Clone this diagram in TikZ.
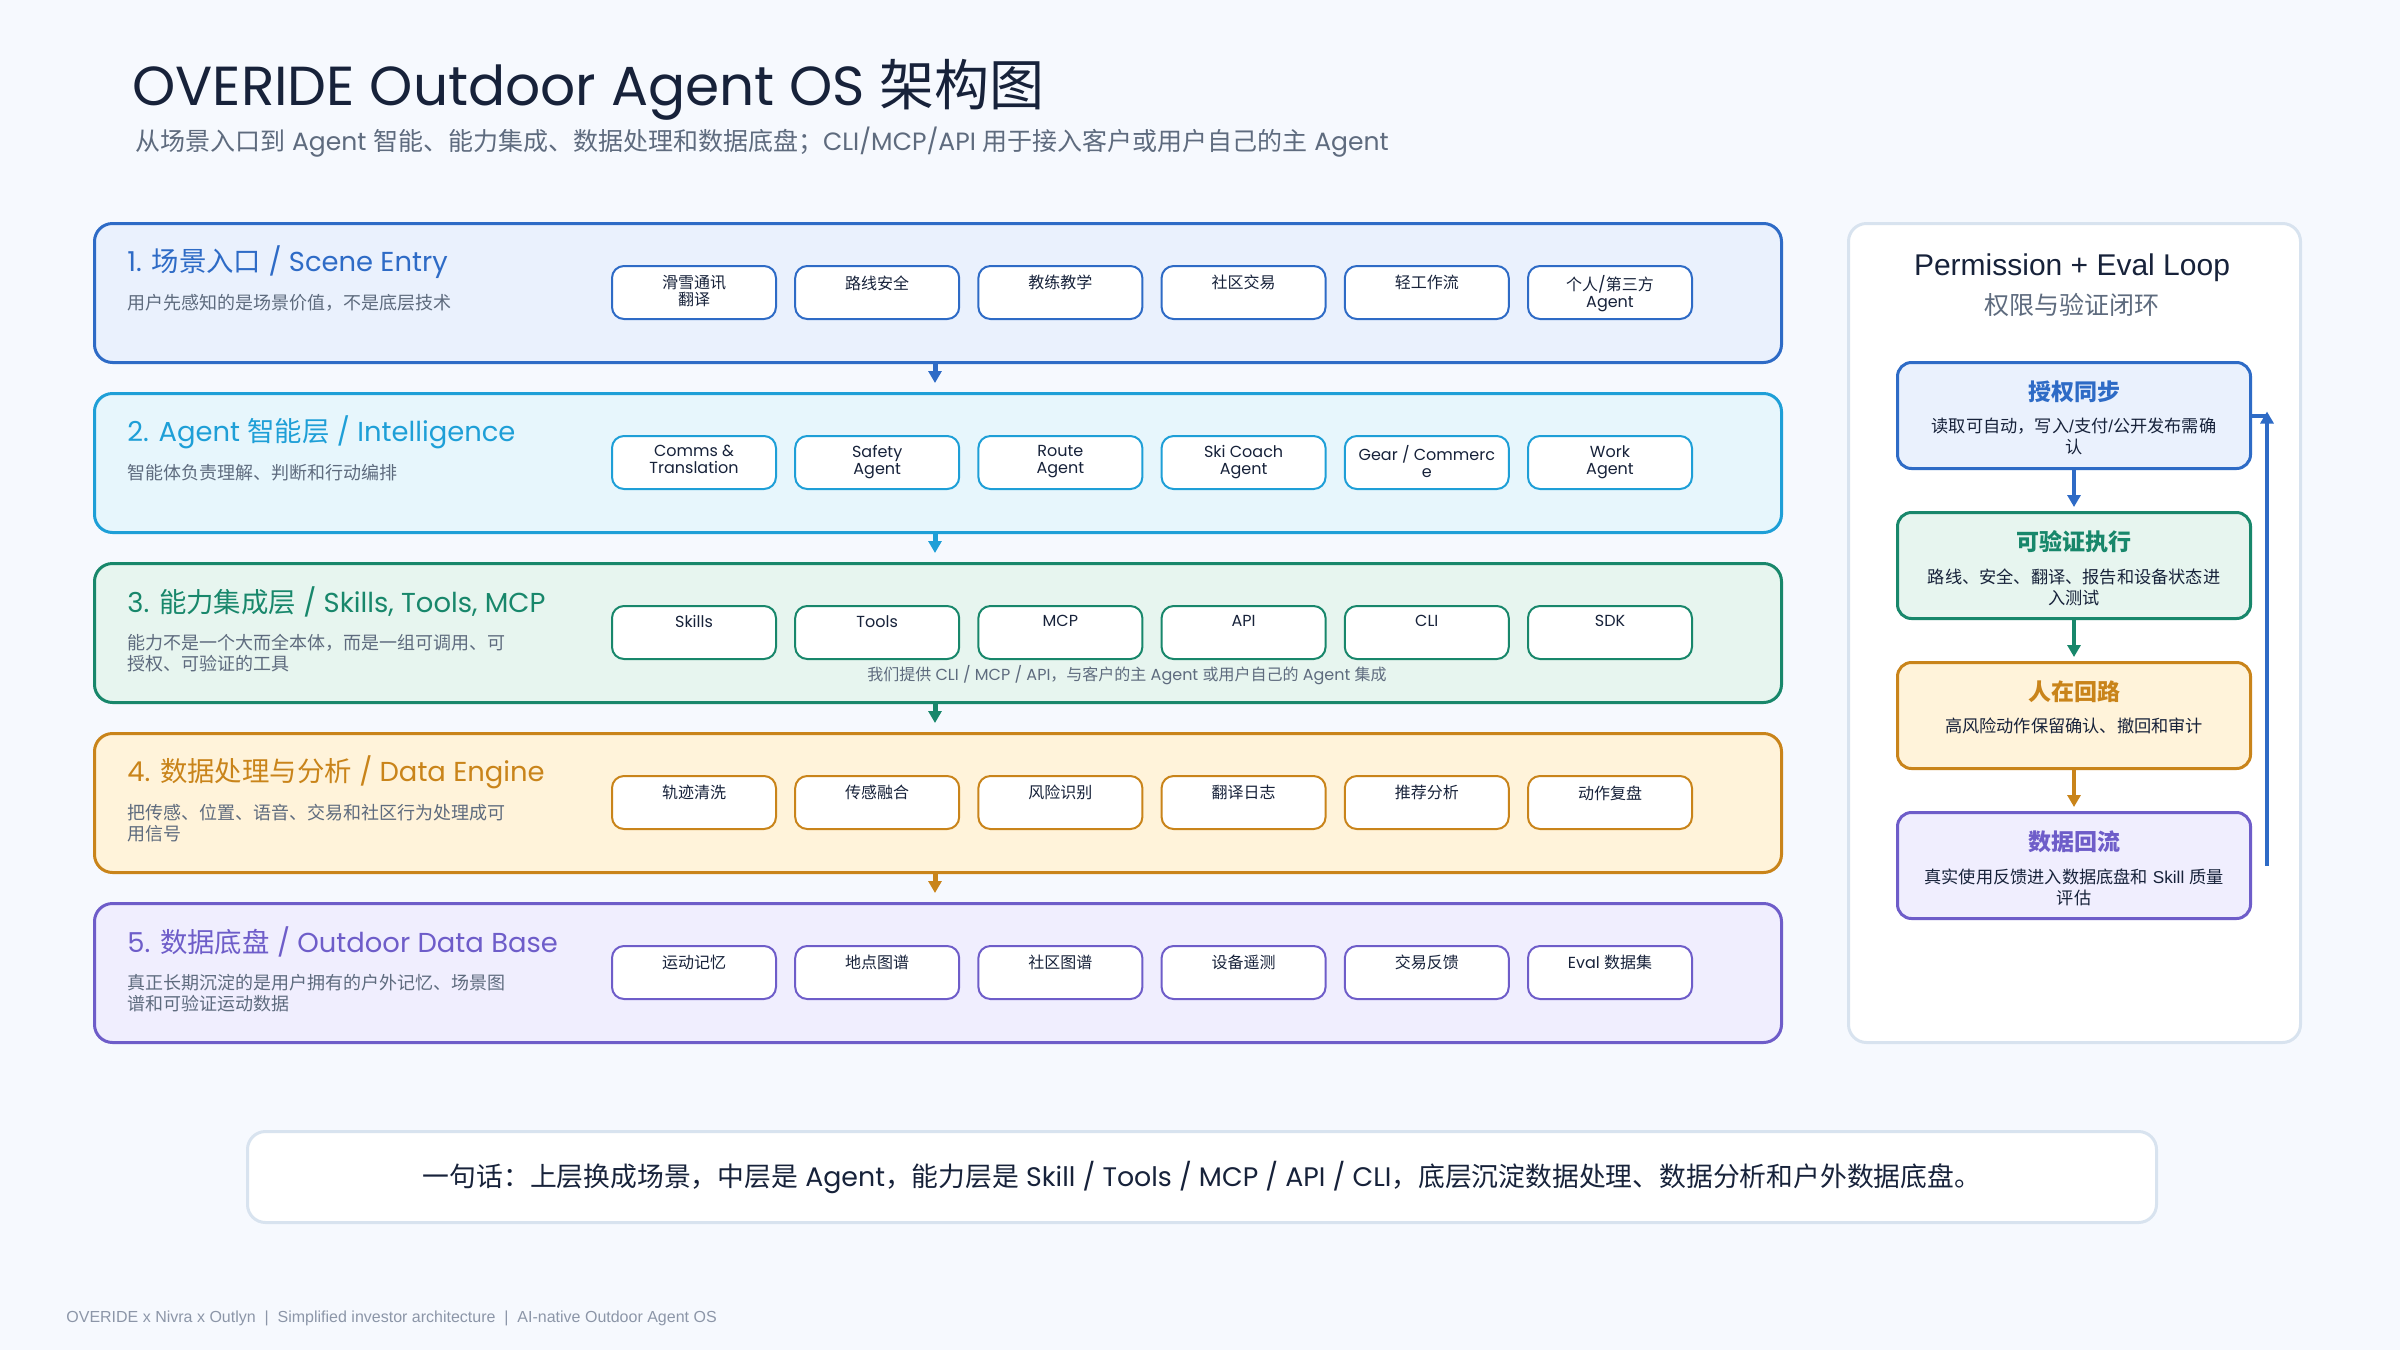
\documentclass[tikz,border=0pt]{standalone}
\usepackage{fontspec}
\setmainfont{Poppins}
\newfontfamily\cjk{Noto Sans CJK SC}
\newfontfamily\popp{Poppins}
\newfontfamily\libs{Liberation Sans}
\usetikzlibrary{arrows.meta,calc}

\def\latcur{\popp}
\XeTeXinterchartokenstate=1
\chardef\CJKcls=7
\newcount\cjkc
\cjkc="3000
\loop\ifnum\cjkc<"A000 \XeTeXcharclass\cjkc=\CJKcls \advance\cjkc by 1 \repeat
\cjkc="FF00
\loop\ifnum\cjkc<"FFF0 \XeTeXcharclass\cjkc=\CJKcls \advance\cjkc by 1 \repeat
\XeTeXinterchartoks 0 \CJKcls = {\cjk}
\XeTeXinterchartoks 4095 \CJKcls = {\cjk}
\XeTeXinterchartoks \CJKcls 0 = {\latcur}
\XeTeXinterchartoks \CJKcls 4095 = {\latcur}

\definecolor{bg}{HTML}{F6F9FE}
\definecolor{ink}{HTML}{17223A}
\definecolor{sub}{HTML}{5E6B7E}
\definecolor{cA}{HTML}{2E6BC6}\definecolor{fA}{HTML}{EAF1FD}
\definecolor{cB}{HTML}{1E9FD7}\definecolor{fB}{HTML}{E7F6FC}
\definecolor{cC}{HTML}{18876B}\definecolor{fC}{HTML}{E7F5EF}
\definecolor{cD}{HTML}{C9841A}\definecolor{fD}{HTML}{FFF3DA}
\definecolor{cE}{HTML}{6E5DC9}\definecolor{fE}{HTML}{F0EEFE}
\definecolor{panel}{HTML}{D8E3EF}
\definecolor{foot}{HTML}{8C96A8}

\tikzset{
  layer/.style 2 args={draw=#1, fill=#2, line width=1.5pt, rounded corners=9pt,
    anchor=north west, minimum width=843.5pt, minimum height=69.5pt, inner sep=0pt},
  ibox/.style={draw=#1, fill=white, line width=1pt, rounded corners=6pt,
    anchor=north, minimum width=82pt, minimum height=26.5pt, inner sep=0pt},
  ibtxt/.style={anchor=north, align=center, inner sep=0pt, text=ink,
    font=\fontsize{8}{8.5}\selectfont\latcur},
  ltitle/.style={anchor=west, inner sep=0pt, font=\fontsize{13.7}{15}\selectfont\latcur},
  lsub/.style={anchor=north west, inner sep=0pt, text=sub, align=left,
    font=\fontsize{9}{10.5}\selectfont\latcur},
  larr/.style={line width=2.5pt, -{Triangle[length=6pt,width=6.5pt]}},
  lbox/.style 2 args={draw=#1, fill=#2, line width=1.5pt, rounded corners=7pt,
    anchor=north west, minimum width=176.5pt, minimum height=53pt, inner sep=0pt},
  ltt/.style={anchor=center, inner sep=0pt, font=\fontsize{11.5}{13}\selectfont\bfseries\latcur},
  ldesc/.style={anchor=north, align=center, inner sep=0pt, text=ink,
    font=\def\latcur{\libs}\fontsize{8.6}{10.5}\selectfont\latcur},
  parr/.style={line width=2pt, -{Triangle[length=6pt,width=6.5pt]}},
}

\begin{document}
\begin{tikzpicture}[x=0.5pt, y=-0.5pt]
\useasboundingbox (0,0) rectangle (2400,1350);
\fill[bg] (0,0) rectangle (2400,1350);

% title
\node[anchor=base west, inner sep=0pt, text=ink, font=\fontsize{27.5}{32}\selectfont\latcur] (T) at (132,105) {OVERIDE Outdoor Agent OS 架构图};
\node[anchor=base west, inner sep=0pt, text=sub, font=\fontsize{12.5}{15}\selectfont\latcur] (ST) at (135,150) {从场景入口到 Agent 智能、能力集成、数据处理和数据底盘；CLI/MCP/API 用于接入客户或用户自己的主 Agent};

% layers
\node[layer={cA}{fA}] (L1) at (93,222) {};
\node[layer={cB}{fB}] (L2) at (93,392) {};
\node[layer={cC}{fC}] (L3) at (93,562) {};
\node[layer={cD}{fD}] (L4) at (93,732) {};
\node[layer={cE}{fE}] (L5) at (93,902) {};

\node[ltitle, text=cA] (L1t) at ($(L1.north west)+(34,40)$) {1. 场景入口 / Scene Entry};
\node[ltitle, text=cB] (L2t) at ($(L2.north west)+(34,40)$) {2. Agent 智能层 / Intelligence};
\node[ltitle, text=cC] (L3t) at ($(L3.north west)+(34,40)$) {3. 能力集成层 / Skills, Tools, MCP};
\node[ltitle, text=cD] (L4t) at ($(L4.north west)+(34,40)$) {4. 数据处理与分析 / Data Engine};
\node[ltitle, text=cE] (L5t) at ($(L5.north west)+(34,40)$) {5. 数据底盘 / Outdoor Data Base};

\node[lsub] (L1s) at ($(L1.north west)+(34,72)$) {用户先感知的是场景价值，不是底层技术};
\node[lsub] (L2s) at ($(L2.north west)+(34,72)$) {智能体负责理解、判断和行动编排};
\node[lsub] (L3s) at ($(L3.north west)+(34,72)$) {能力不是一个大而全本体，而是一组可调用、可\\授权、可验证的工具};
\node[lsub] (L4s) at ($(L4.north west)+(34,72)$) {把传感、位置、语音、交易和社区行为处理成可\\用信号};
\node[lsub] (L5s) at ($(L5.north west)+(34,72)$) {真正长期沉淀的是用户拥有的户外记忆、场景图\\谱和可验证运动数据};

% inner boxes
\foreach \t [count=\i from 0] in {{滑雪通讯\\翻译},路线安全,教练教学,社区交易,轻工作流,{个人/第三方\\Agent}} {
  \node[ibox=cA] (A\i) at ({694+183.2*\i},265) {};
  \node[ibtxt] (Ax\i) at ($(A\i.north)+(0,10)$) {\t};
}
\foreach \t [count=\i from 0] in {{Comms \&\\Translation},{Safety\\Agent},{Route\\Agent},{Ski Coach\\Agent},{Gear / Commerc\\e},{Work\\Agent}} {
  \node[ibox=cB] (B\i) at ({694+183.2*\i},435) {};
  \node[ibtxt] (Bx\i) at ($(B\i.north)+(0,10)$) {\t};
}
\foreach \t [count=\i from 0] in {Skills,Tools,MCP,API,CLI,SDK} {
  \node[ibox=cC] (C\i) at ({694+183.2*\i},605) {};
  \node[ibtxt] (Cx\i) at ($(C\i.north)+(0,10)$) {\t};
}
\foreach \t [count=\i from 0] in {轨迹清洗,传感融合,风险识别,翻译日志,推荐分析,动作复盘} {
  \node[ibox=cD] (D\i) at ({694+183.2*\i},775) {};
  \node[ibtxt] (Dx\i) at ($(D\i.north)+(0,10)$) {\t};
}
\foreach \t [count=\i from 0] in {运动记忆,地点图谱,社区图谱,设备遥测,交易反馈,Eval 数据集} {
  \node[ibox=cE] (E\i) at ({694+183.2*\i},945) {};
  \node[ibtxt] (Ex\i) at ($(E\i.north)+(0,10)$) {\t};
}
\node[anchor=center, inner sep=0pt, text=sub, font=\fontsize{8}{9}\selectfont\latcur] (L3n) at (1127,675) {我们提供 CLI / MCP / API，与客户的主 Agent 或用户自己的 Agent 集成};

% layer arrows
\coordinate (ax) at (935,0);
\draw[larr, cA] (L1.south -| ax) -- ($(L2.north -| ax)+(0,-9)$);
\draw[larr, cB] (L2.south -| ax) -- ($(L3.north -| ax)+(0,-9)$);
\draw[larr, cC] (L3.south -| ax) -- ($(L4.north -| ax)+(0,-9)$);
\draw[larr, cD] (L4.south -| ax) -- ($(L5.north -| ax)+(0,-9)$);

% right panel
\node[draw=panel, fill=white, line width=1.5pt, rounded corners=9pt, anchor=north west,
  minimum width=226pt, minimum height=409.5pt, inner sep=0pt] (RP) at (1847,222) {};
\node[inner sep=0pt, text=ink, font=\fontsize{15}{17}\selectfont\libs] (RPt) at (2072,268) {Permission + Eval Loop};
\node[inner sep=0pt, text=sub, font=\fontsize{12.5}{14}\selectfont\latcur] (RPs) at (2072,305) {权限与验证闭环};

\node[lbox={cA}{fA}] (P1) at (1896,361) {};
\node[lbox={cC}{fC}] (P2) at (1896,511) {};
\node[lbox={cD}{fD}] (P3) at (1896,661) {};
\node[lbox={cE}{fE}] (P4) at (1896,811) {};
\node[ltt, text=cA] (P1t) at ($(P1.north)+(0,31)$) {授权同步};
\node[ltt, text=cC] (P2t) at ($(P2.north)+(0,31)$) {可验证执行};
\node[ltt, text=cD] (P3t) at ($(P3.north)+(0,31)$) {人在回路};
\node[ltt, text=cE] (P4t) at ($(P4.north)+(0,31)$) {数据回流};
\node[ldesc] (P1d) at ($(P1.north)+(0,57)$) {读取可自动，写入/支付/公开发布需确\\认};
\node[ldesc] (P2d) at ($(P2.north)+(0,57)$) {路线、安全、翻译、报告和设备状态进\\入测试};
\node[ldesc] (P3d) at ($(P3.north)+(0,57)$) {高风险动作保留确认、撤回和审计};
\node[ldesc] (P4d) at ($(P4.north)+(0,57)$) {真实使用反馈进入数据底盘和 Skill 质量\\评估};

\draw[parr, cA] (P1.south) -- ($(P2.north)+(0,-4)$);
\draw[parr, cC] (P2.south) -- ($(P3.north)+(0,-4)$);
\draw[parr, cD] (P3.south) -- ($(P4.north)+(0,-4)$);
\coordinate (rb) at ($(P4.east)+(15,0)$);
\coordinate (rt) at ($(P1.east)+(15,-4)$);
\draw[parr, cA] (rb) -- (rt);
\draw[line width=2pt, cA] ($(P1.east)+(15,0)$) -- (P1.east);

% summary
\node[draw=panel, fill=white, line width=1.5pt, rounded corners=9pt, anchor=north west,
  minimum width=954.5pt, minimum height=45.5pt, inner sep=0pt] (S) at (246,1130) {};
\node[inner sep=0pt, text=ink, font=\fontsize{13.4}{15}\selectfont\latcur] (St) at (S.center) {一句话：上层换成场景，中层是 Agent，能力层是 Skill / Tools / MCP / API / CLI，底层沉淀数据处理、数据分析和户外数据底盘。};

% footer
\node[anchor=west, inner sep=0pt, text=foot, font=\fontsize{8}{9}\selectfont\libs] (F) at (66,1318) {OVERIDE x Nivra x Outlyn \ |\ \ Simplified investor architecture \ |\ \ AI-native Outdoor Agent OS};
\end{tikzpicture}
\end{document}
